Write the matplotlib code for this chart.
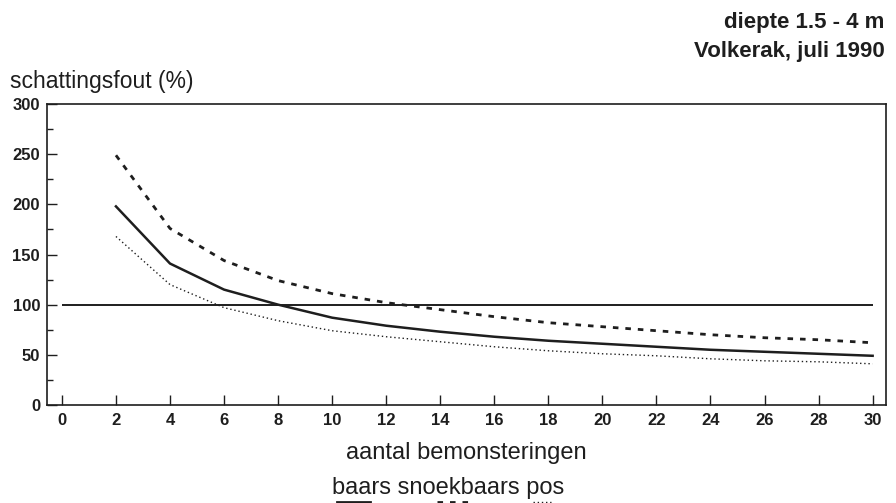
import matplotlib.pyplot as plt
from matplotlib.lines import Line2D
from matplotlib.ticker import MultipleLocator

plt.rcParams['font.family'] = ['Liberation Sans', 'DejaVu Sans']

# aantal bemonsteringen
x = [2, 4, 6, 8, 10, 12, 14, 16, 18, 20, 22, 24, 26, 28, 30]
# schattingsfout (%)
baars = [198, 141, 115, 100, 87, 79, 73, 68, 64, 61, 58, 55, 53, 51, 49]
snoekbaars = [249, 176, 144, 124, 111, 102, 95, 88, 82, 78, 74, 70, 67, 65, 62]
pos = [168, 120, 97, 84, 74, 68, 63, 58, 54, 51, 49, 46, 44, 43, 41]
grens = 100

xticks = list(range(0, 31, 2))
yticks = [0, 50, 100, 150, 200, 250, 300]

ink = '#1e1e1e'

fig = plt.figure(figsize=(8.96, 5.03), dpi=100)
ax = fig.add_axes([0.0525, 0.195, 0.9365, 0.598])

ax.hlines(grens, 0, 30, color=ink, lw=1.4)
ax.plot(x, baars, color=ink, lw=1.8, ls='-')
ax.plot(x, snoekbaars, color=ink, lw=2.0, ls=(0, (2, 2.5)))
ax.plot(x, pos, color=ink, lw=1.0, ls=(0, (1, 2)))

ax.set_xlim(-0.55, 30.5)
ax.set_ylim(0, 300)
ax.set_xticks(xticks)
ax.set_yticks(yticks)
ax.yaxis.set_minor_locator(MultipleLocator(25))
ax.tick_params(direction='in', length=7, width=1, colors=ink, labelsize=12, pad=6)
ax.tick_params(axis='y', pad=5)
ax.tick_params(which='minor', direction='in', length=4, width=1, colors=ink)
for lab in ax.get_xticklabels() + ax.get_yticklabels():
    lab.set_fontweight('bold')
for s in ax.spines.values():
    s.set_color(ink)
    s.set_linewidth(1.2)

fig.text(0.987, 0.955, 'diepte 1.5 - 4 m', ha='right', va='center',
         fontsize=16, fontweight='bold', color=ink)
fig.text(0.987, 0.898, 'Volkerak, juli 1990', ha='right', va='center',
         fontsize=16, fontweight='bold', color=ink)
fig.text(0.011, 0.838, 'schattingsfout (%)', ha='left', va='center',
         fontsize=16.5, color=ink)
fig.text(0.52, 0.099, 'aantal bemonsteringen', ha='center', va='center',
         fontsize=17, color=ink)

# legenda onderaan (half afgesneden)
fig.text(0.5, 0.03, 'baars snoekbaars pos', ha='center', va='center',
         fontsize=17, color=ink)
fig.add_artist(Line2D([0.376, 0.413], [0.002, 0.002], transform=fig.transFigure,
                      color=ink, lw=2))
fig.add_artist(Line2D([0.488, 0.528], [0.002, 0.002], transform=fig.transFigure,
                      color=ink, lw=2, ls=(0, (2, 2.5))))
fig.add_artist(Line2D([0.595, 0.615], [0.002, 0.002], transform=fig.transFigure,
                      color=ink, lw=1, ls=(0, (1, 2))))

fig.savefig('out.png', dpi=100)
